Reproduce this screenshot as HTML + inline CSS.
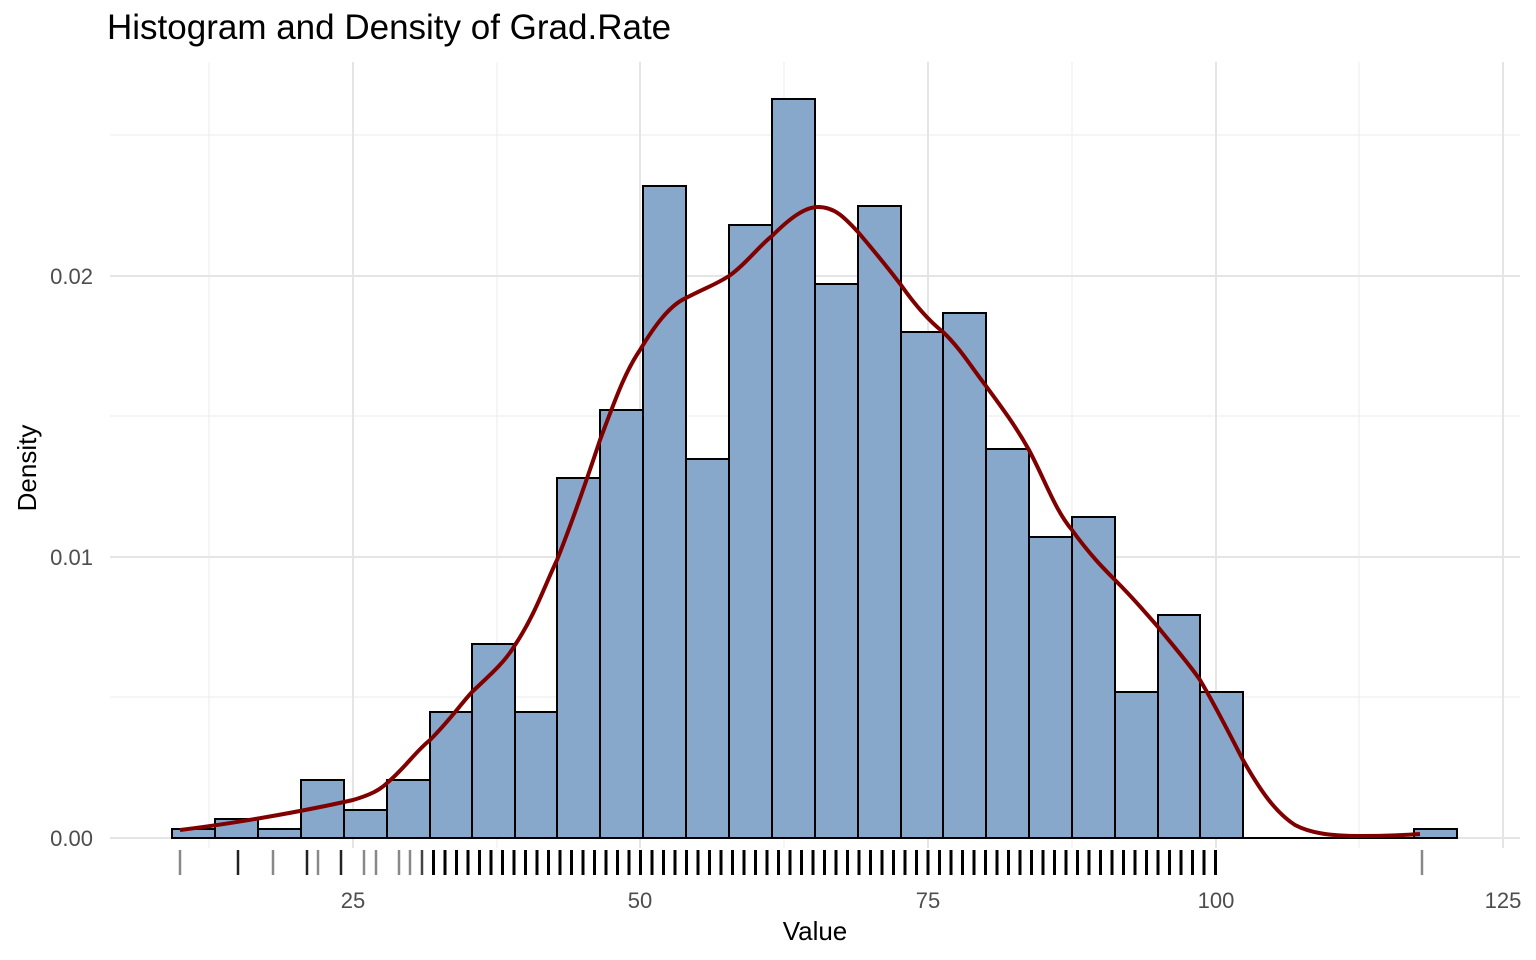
<!DOCTYPE html>
<html><head><meta charset="utf-8"><style>body{margin:0;background:#fff}svg{display:block}text{font-family:"Liberation Sans",sans-serif}</style></head><body>
<svg width="1536" height="960" viewBox="0 0 1536 960" xmlns="http://www.w3.org/2000/svg">
<g stroke="#ebebeb" stroke-width="1">
<line x1="110" x2="1520" y1="697" y2="697"/><line x1="110" x2="1520" y1="416" y2="416"/><line x1="110" x2="1520" y1="135" y2="135"/>
<line x1="209" x2="209" y1="62" y2="848"/><line x1="497" x2="497" y1="62" y2="848"/><line x1="784" x2="784" y1="62" y2="848"/><line x1="1072" x2="1072" y1="62" y2="848"/><line x1="1359" x2="1359" y1="62" y2="848"/>
</g>
<g stroke="#e5e5e5" stroke-width="2">
<line x1="110" x2="1520" y1="838" y2="838"/><line x1="110" x2="1520" y1="557" y2="557"/><line x1="110" x2="1520" y1="276" y2="276"/>
<line x1="353" x2="353" y1="62" y2="848"/><line x1="640" x2="640" y1="62" y2="848"/><line x1="928" x2="928" y1="62" y2="848"/><line x1="1216" x2="1216" y1="62" y2="848"/><line x1="1503" x2="1503" y1="62" y2="848"/>
</g>
<g fill="#88a8cb" stroke="#000" stroke-width="2">
<rect x="172" y="829" width="43" height="9"/>
<rect x="215" y="819" width="43" height="19"/>
<rect x="258" y="829" width="43" height="9"/>
<rect x="301" y="780" width="43" height="58"/>
<rect x="344" y="810" width="43" height="28"/>
<rect x="387" y="780" width="43" height="58"/>
<rect x="430" y="712" width="42" height="126"/>
<rect x="472" y="644" width="43" height="194"/>
<rect x="515" y="712" width="42" height="126"/>
<rect x="557" y="478" width="43" height="360"/>
<rect x="600" y="410" width="43" height="428"/>
<rect x="643" y="186" width="43" height="652"/>
<rect x="686" y="459" width="43" height="379"/>
<rect x="729" y="225" width="43" height="613"/>
<rect x="772" y="99" width="43" height="739"/>
<rect x="815" y="284" width="43" height="554"/>
<rect x="858" y="206" width="43" height="632"/>
<rect x="901" y="332" width="42" height="506"/>
<rect x="943" y="313" width="43" height="525"/>
<rect x="986" y="449" width="43" height="389"/>
<rect x="1029" y="537" width="43" height="301"/>
<rect x="1072" y="517" width="43" height="321"/>
<rect x="1115" y="692" width="43" height="146"/>
<rect x="1158" y="615" width="42" height="223"/>
<rect x="1200" y="692" width="43" height="146"/>
<rect x="1414" y="829" width="43" height="9"/>
<line x1="172" x2="1457" y1="838" y2="838"/>
</g>
<g stroke-width="2.5" stroke="#888">
<line x1="180" x2="180" y1="850" y2="875"/>
<line x1="238" x2="238" y1="850" y2="875" stroke="#222"/>
<line x1="273" x2="273" y1="850" y2="875"/>
<line x1="307" x2="307" y1="850" y2="875" stroke="#222"/>
<line x1="318" x2="318" y1="850" y2="875"/>
<line x1="341" x2="341" y1="850" y2="875" stroke="#222"/>
<line x1="364" x2="364" y1="850" y2="875"/>
<line x1="376" x2="376" y1="850" y2="875"/>
<line x1="399" x2="399" y1="850" y2="875"/>
<line x1="410" x2="410" y1="850" y2="875"/>
<line x1="422" x2="422" y1="850" y2="875" stroke="#444"/>
<line x1="1422" x2="1422" y1="850" y2="875"/>
</g>
<path stroke="#000" stroke-width="3" d="M433.5,850v25M445,850v25M456.5,850v25M468,850v25M479.5,850v25M491,850v25M502.5,850v25M514,850v25M525.5,850v25M537,850v25M548.5,850v25M560,850v25M571.5,850v25M583,850v25M594.5,850v25M606,850v25M617.5,850v25M629,850v25M640.5,850v25M652,850v25M663.5,850v25M675,850v25M686.5,850v25M698,850v25M709.5,850v25M721,850v25M732.5,850v25M744,850v25M755.5,850v25M767,850v25M778.5,850v25M790,850v25M801.5,850v25M813,850v25M824.5,850v25M836,850v25M847.5,850v25M859,850v25M870.5,850v25M882,850v25M893.5,850v25M905,850v25M916.5,850v25M928,850v25M939.5,850v25M951,850v25M962.5,850v25M974,850v25M985.5,850v25M997,850v25M1008.5,850v25M1020,850v25M1031.5,850v25M1043,850v25M1054.5,850v25M1066,850v25M1077.5,850v25M1089,850v25M1100.5,850v25M1112,850v25M1123.5,850v25M1135,850v25M1146.5,850v25M1158,850v25M1169.5,850v25M1181,850v25M1192.5,850v25M1204,850v25M1215.5,850v25"/>
<path fill="none" stroke="#800000" stroke-width="4" stroke-linejoin="round" d="M180,830 C230,824 300,812 353,800 C370,795 380,790 387,783 C405,768 415,752 430,740 C450,720 460,705 472,692 C490,675 505,662 515,645 C535,615 545,585 557,560 C575,515 590,470 600,440 C615,400 625,372 640,350 C655,325 670,305 686,298 C705,288 715,285 729,276 C745,265 760,245 772,236 C790,218 805,207 818,207 C835,207 845,218 858,232 C875,252 888,268 901,285 C915,305 928,320 943,332 C960,348 972,368 986,386 C1000,405 1015,425 1029,450 C1045,480 1055,510 1072,530 C1090,555 1105,570 1115,580 C1135,600 1145,612 1158,627 C1175,648 1190,665 1200,680 C1215,705 1230,735 1243,760 C1260,790 1275,812 1295,825 C1310,833 1330,836 1360,836 C1390,836 1405,835 1420,834"/>
<g style="font-size:22px" fill="#4d4d4d" text-anchor="end">
<text x="93" y="846">0.00</text><text x="93" y="565">0.01</text><text x="93" y="284">0.02</text>
</g>
<g style="font-size:22px" fill="#4d4d4d" text-anchor="middle">
<text x="353" y="908">25</text><text x="640" y="908">50</text><text x="928" y="908">75</text><text x="1216" y="908">100</text><text x="1503" y="908">125</text>
</g>
<text x="815" y="940" style="font-size:26px" text-anchor="middle">Value</text>
<text transform="translate(36,468) rotate(-90)" style="font-size:26px" text-anchor="middle">Density</text>
<text x="107" y="39" style="font-size:35px">Histogram and Density of Grad.Rate</text>
</svg>
</body></html>
